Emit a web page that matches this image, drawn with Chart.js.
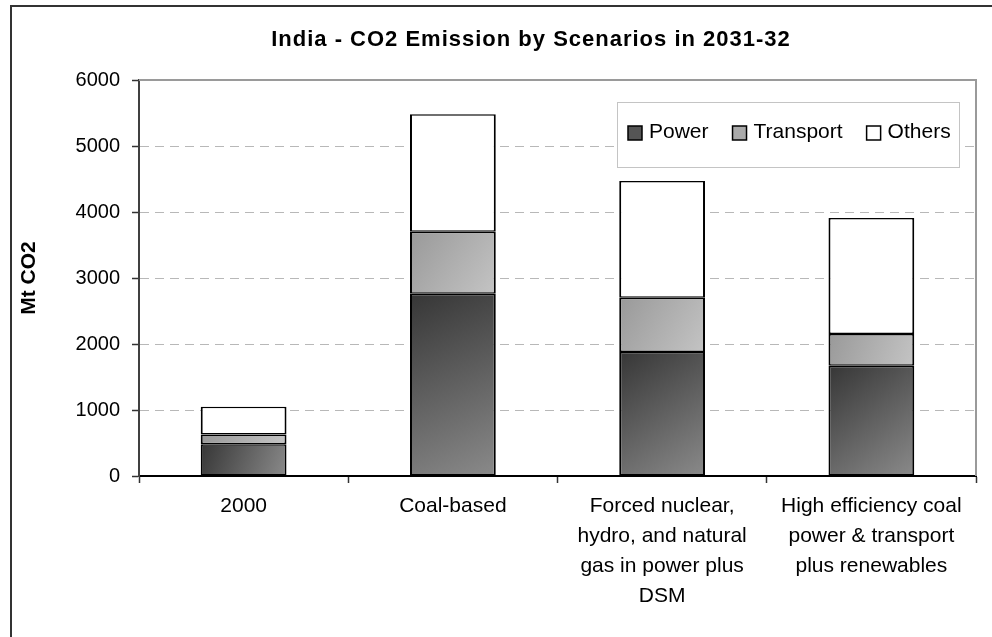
<!DOCTYPE html>
<html>
<head>
<meta charset="utf-8">
<script src="https://cdn.jsdelivr.net/npm/chart.js@4.4.0/dist/chart.umd.min.js"></script>
<style>
  html, body { margin: 0; padding: 0; background: #fff; overflow: hidden; }
  #frame { position: absolute; left: 10px; top: 5px; width: 1100px; height: 700px;
           border-left: 2px solid #333; border-top: 2px solid #333; }
  #wrap { position: absolute; left: 0; top: 0; width: 992px; height: 637px; }
</style>
</head>
<body>
<div id="frame"></div>
<div id="wrap"><canvas id="chart"></canvas></div>
<script>
// ─── data ────────────────────────────────────────────────────────────────────
const chartTitle = 'India - CO2 Emission by Scenarios in 2031-32';
const yTitle = 'Mt CO2';
const categories = [
  ['2000'],
  ['Coal-based'],
  ['Forced nuclear,', 'hydro, and natural', 'gas in power plus', 'DSM'],
  ['High efficiency coal', 'power & transport', 'plus renewables'],
];
const power     = [480, 2760, 1880, 1670];
const transport = [150,  940,  820,  480];
const others    = [420, 1780, 1770, 1760];
const yMax = 6000;
const yStep = 1000;

const FONT = '"Liberation Sans", Arial, sans-serif';
const BAR_PCT = 0.41;

// diagonal shading per bar segment, placed through the chart's own scales
function shade(dark, light) {
  return ctx => {
    const chart = ctx.chart;
    const { x, y } = chart.scales;
    if (ctx.type !== 'data' || !x || !y || !chart.chartArea) return dark;
    const i = ctx.dataIndex, d = ctx.datasetIndex;
    let base = 0;
    for (let k = 0; k < d; k++) base += chart.data.datasets[k].data[i];
    const top = base + chart.data.datasets[d].data[i];
    const cx = x.getPixelForValue(i);
    const half = (x.width / categories.length) * BAR_PCT / 2;
    const y0 = y.getPixelForValue(top), y1 = y.getPixelForValue(base);
    if (![cx, half, y0, y1].every(Number.isFinite)) return dark;
    const g = chart.ctx.createLinearGradient(cx - half, y0, cx + half, y1);
    g.addColorStop(0, dark);
    g.addColorStop(1, light);
    return g;
  };
}

const SWATCH = ['#555555', '#aaaaaa', '#ffffff'];

// plot-area frame, title and the inset legend
const chrome = {
  id: 'chrome',
  beforeDatasetsDraw(chart) {
    const { ctx, chartArea: a } = chart;
    ctx.save();
    ctx.strokeStyle = '#9a9a9a';
    ctx.lineWidth = 2;
    ctx.beginPath();
    ctx.moveTo(a.left, a.top);
    ctx.lineTo(a.right, a.top);
    ctx.lineTo(a.right, a.bottom);
    ctx.stroke();
    ctx.restore();
  },
  afterDraw(chart) {
    const { ctx, chartArea: a } = chart;
    ctx.save();
    // title
    ctx.fillStyle = '#000';
    ctx.font = 'bold 22px ' + FONT;
    ctx.letterSpacing = '1px';
    ctx.textAlign = 'center';
    ctx.textBaseline = 'alphabetic';
    ctx.fillText(chartTitle, 531, 46);
    ctx.letterSpacing = '0px';

    // legend box
    const bx = a.right - 359, by = a.top + 22, bw = 342, bh = 65;
    ctx.fillStyle = '#fff';
    ctx.fillRect(bx, by, bw, bh);
    ctx.strokeStyle = '#c4c4c4';
    ctx.lineWidth = 1;
    ctx.strokeRect(bx + 0.5, by + 0.5, bw, bh);

    ctx.font = '21px ' + FONT;
    ctx.textAlign = 'left';
    let x = bx + 11;
    const sy = by + 24;
    chart.data.datasets.forEach((ds, k) => {
      ctx.fillStyle = SWATCH[k];
      ctx.fillRect(x, sy, 14, 14);
      ctx.strokeStyle = '#000';
      ctx.lineWidth = 1.5;
      ctx.strokeRect(x, sy, 14, 14);
      ctx.fillStyle = '#000';
      ctx.fillText(ds.label, x + 21, sy + 12);
      x += 21 + ctx.measureText(ds.label).width + 24;
    });
    ctx.restore();
  },
};

function barDS(label, data, bg) {
  return {
    label, data,
    backgroundColor: bg,
    borderColor: '#000',
    borderWidth: { left: 2, right: 2, top: 1.5, bottom: 1.5 },
    borderSkipped: false,
    barPercentage: BAR_PCT,
    categoryPercentage: 1,
  };
}

new Chart(document.getElementById('chart'), {
  type: 'bar',
  data: {
    labels: categories,
    datasets: [
      barDS('Power', power, shade('#363636', '#8a8a8a')),
      barDS('Transport', transport, shade('#999999', '#c4c4c4')),
      barDS('Others', others, '#ffffff'),
    ],
  },
  options: {
    responsive: true, maintainAspectRatio: false, animation: false,
    layout: { padding: { top: 80, right: 16, left: 0, bottom: 0 } },
    plugins: { legend: { display: false }, title: { display: false }, tooltip: { enabled: false } },
    scales: {
      x: {
        stacked: true,
        ticks: { color: '#000', font: { family: FONT, size: 21, lineHeight: 1.43 }, padding: 8,
                 maxRotation: 0, autoSkip: false },
        grid: { drawOnChartArea: false, offset: true, tickColor: '#333', tickLength: 7, tickWidth: 1.5 },
        border: { color: '#000', width: 2 },
        afterFit: s => { s.height = 161; },
      },
      y: {
        stacked: true, min: 0, max: yMax,
        ticks: { stepSize: yStep, color: '#000', font: { family: FONT, size: 20 }, padding: 12,
                 callback: v => String(v) },
        grid: { color: '#b8b8b8', lineWidth: 1, tickColor: '#333', tickLength: 7, tickWidth: 1.5 },
        border: { color: '#404040', width: 2, dash: [9, 6] },
        title: { display: true, text: yTitle, color: '#000',
                 font: { family: FONT, size: 21, weight: 'bold' }, padding: { top: 17 } },
        afterFit: s => { s.width = 139; },
      },
    },
  },
  plugins: [chrome],
});
</script>
</body>
</html>
